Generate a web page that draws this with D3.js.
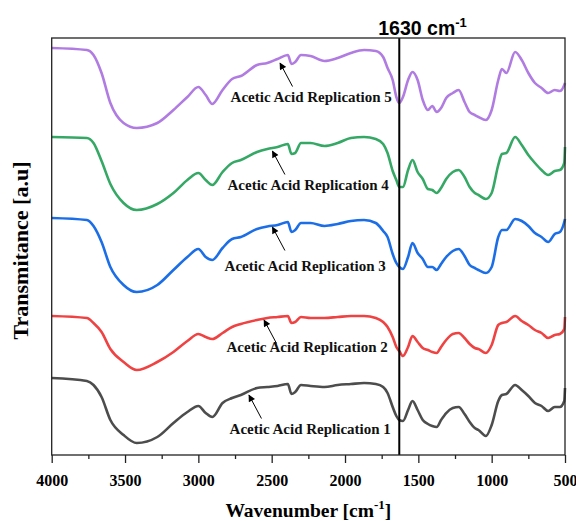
<!DOCTYPE html>
<html>
<head>
<meta charset="utf-8">
<script src="https://cdn.jsdelivr.net/npm/d3@7"></script>
<style>
  body { margin: 0; background: #fff; }
  svg { display: block; }
  .tick text { font-family: "Liberation Serif", "Times New Roman", serif; font-weight: bold; font-size: 16px; fill: #000; }
  .annot { font-family: "Liberation Serif", "Times New Roman", serif; font-weight: bold; font-size: 15px; fill: #111; }
  .title { font-family: "Liberation Serif", "Times New Roman", serif; font-weight: bold; fill: #000; }
</style>
</head>
<body>
<script>
// wavenumbers (cm-1) shared by all five spectra
var wavenumbers = [4000, 3760, 3715, 3660, 3600, 3510, 3420, 3280, 3170, 3075, 3000, 2950, 2905, 2835, 2770, 2710,
    2600, 2530, 2460, 2390, 2365, 2340, 2300, 2235, 2140, 2050, 1960, 1870, 1790, 1740, 1710, 1675, 1650, 1630,
    1605, 1570, 1540, 1505, 1470, 1435, 1405, 1375, 1345, 1310, 1265, 1225, 1185, 1150, 1115, 1090, 1040, 1000,
    955, 930, 900, 840, 795, 750, 705, 660, 615, 570, 535, 505, 500];

// transmittance [a.u], offset stacked
var rep1 = [7.7, 7.4, 7.0, 5.8, 3.5, 2.0, 1.2, 1.8, 3.2, 4.3, 4.9, 4.2, 3.8, 5.2, 5.7, 6.0,
    6.7, 6.8, 6.9, 7.1, 6.1, 6.3, 7.0, 6.9, 6.8, 7.0, 7.1, 7.2, 7.1, 6.8, 6.2, 4.8, 3.9, 3.5,
    3.4, 4.5, 5.4, 4.5, 3.5, 3.1, 2.9, 2.8, 3.5, 4.2, 4.7, 4.8, 4.1, 3.3, 2.7, 2.5, 1.9, 3.0,
    5.4, 6.0, 6.1, 7.0, 6.5, 5.9, 5.2, 4.9, 4.4, 4.8, 4.8, 5.4, 6.7];
var rep2 = [13.9, 13.7, 13.2, 12.3, 10.6, 9.3, 8.5, 9.3, 10.3, 11.4, 12.1, 11.8, 11.6, 12.2, 12.8, 13.1,
    13.5, 13.7, 13.8, 13.9, 13.2, 13.3, 13.8, 13.7, 13.7, 13.8, 13.9, 13.9, 13.7, 13.3, 12.8, 11.8, 10.8, 10.4,
    9.9, 10.8, 11.9, 11.3, 10.7, 10.5, 10.3, 10.2, 10.8, 11.5, 12.1, 12.2, 11.7, 11.1, 10.7, 10.6, 10.2, 11.0,
    13.0, 13.2, 13.3, 13.9, 13.4, 13.0, 12.5, 12.2, 11.7, 12.0, 12.1, 12.6, 13.8];
var rep3 = [23.7, 23.5, 22.9, 21.3, 18.8, 17.0, 16.3, 17.0, 18.5, 19.8, 20.6, 19.8, 19.5, 20.7, 21.6, 21.8,
    22.6, 22.85, 23.0, 23.3, 22.3, 22.5, 23.2, 23.2, 22.9, 23.1, 23.4, 23.5, 23.2, 22.4, 21.8, 20.1, 19.2, 18.8,
    18.6, 19.8, 21.2, 20.2, 19.6, 18.8, 18.8, 18.5, 19.1, 19.8, 20.4, 20.6, 19.9, 19.0, 18.7, 18.5, 18.2, 18.8,
    21.8, 22.5, 22.5, 23.6, 23.4, 22.9, 22.2, 21.8, 21.3, 22.1, 22.3, 23.3, 23.6];
var rep4 = [31.8, 31.7, 31.2, 29.4, 27.1, 25.2, 24.5, 25.1, 26.2, 27.5, 28.2, 27.5, 27.0, 28.3, 29.2, 29.5,
    30.3, 30.6, 30.8, 31.1, 30.1, 30.2, 31.2, 31.2, 30.9, 31.2, 31.7, 31.8, 31.6, 31.1, 30.2, 28.4, 27.5, 26.8,
    26.8, 28.5, 29.5, 28.3, 27.6, 26.6, 26.5, 26.2, 26.7, 27.6, 28.3, 28.5, 27.8, 26.8, 26.2, 26.0, 25.6, 26.2,
    29.0, 30.1, 30.2, 31.8, 31.0, 30.0, 29.2, 28.5, 28.0, 28.4, 28.5, 29.2, 30.8];
var rep5 = [40.7, 40.5, 40.0, 38.2, 35.2, 33.2, 32.7, 33.2, 34.5, 35.8, 36.8, 36.0, 35.1, 36.5, 37.6, 37.9,
    39.0, 39.2, 39.6, 40.0, 39.1, 39.3, 40.0, 39.9, 39.4, 39.7, 40.2, 40.5, 40.4, 39.8, 38.7, 37.5, 35.8, 35.2,
    35.8, 37.5, 38.3, 37.5, 35.5, 34.5, 34.9, 34.3, 34.7, 35.7, 36.2, 36.5, 35.3, 34.3, 34.0, 33.8, 33.5, 34.5,
    37.5, 38.6, 38.2, 40.3, 39.5, 38.2, 37.2, 36.7, 36.2, 36.5, 36.4, 37.0, 37.2];

var seriesNames = ["Acetic Acid Replication 1", "Acetic Acid Replication 2", "Acetic Acid Replication 3",
    "Acetic Acid Replication 4", "Acetic Acid Replication 5"];
var seriesColors = ["#4d4d4d", "#ef4343", "#1b6ee6", "#35a865", "#b07ce2"];

// arrow tips and label positions, in data units [wavenumber, a.u.]
var arrowTips = [[2655, 6.0], [2552, 13.5], [2495, 22.8], [2495, 30.4], [2443, 39.2]];
var labelPos = [[2787, 2.1], [2808, 10.3], [2821, 18.4], [2801, 26.5], [2780, 35.3]];

var xTicks = [4000, 3500, 3000, 2500, 2000, 1500, 1000, 500];
var markLine = 1630;

var margin = {top: 38, right: 11, bottom: 66, left: 51.7},
    width = 576 - margin.left - margin.right,
    height = 521 - margin.top - margin.bottom;

var x = d3.scaleLinear().domain([4000, 500]).range([0, width]);
var y = d3.scaleLinear().domain([0, 41.7]).range([height, 0]);

var svg = d3.select("body").append("svg")
    .attr("width", 576)
    .attr("height", 521);

var defs = svg.append("defs");
defs.append("marker")
    .attr("id", "arrow")
    .attr("viewBox", "0 0 10 10")
    .attr("refX", 9)
    .attr("refY", 5)
    .attr("markerWidth", 9)
    .attr("markerHeight", 7)
    .attr("markerUnits", "userSpaceOnUse")
    .attr("orient", "auto")
    .append("path")
    .attr("d", "M0,0 L10,5 L0,10 Z")
    .attr("fill", "#000");

var g = svg.append("g")
    .attr("transform", "translate(" + margin.left + "," + margin.top + ")");

var line = d3.line()
    .curve(d3.curveMonotoneX)
    .x(d => x(d[0]))
    .y(d => y(d[1]));

var series = [rep1, rep2, rep3, rep4, rep5];

g.selectAll(".spectrum")
    .data(series)
    .enter()
    .append("path")
    .attr("class", "spectrum")
    .attr("fill", "none")
    .attr("stroke", (d, i) => seriesColors[i])
    .attr("stroke-width", 2.6)
    .attr("stroke-linejoin", "round")
    .attr("d", d => line(d.map((v, j) => [wavenumbers[j], v])));

// vertical marker
g.append("line")
    .attr("x1", x(markLine)).attr("x2", x(markLine))
    .attr("y1", 0).attr("y2", height)
    .attr("stroke", "#000")
    .attr("stroke-width", 2);

// frame
g.append("rect")
    .attr("width", width)
    .attr("height", height)
    .attr("fill", "none")
    .attr("stroke", "#222")
    .attr("stroke-width", 1.3);

// x axis, minor ticks every 250
var minor = d3.range(500, 4001, 250);
var xAxis = d3.axisBottom(x)
    .tickValues(minor)
    .tickSize(8)
    .tickPadding(12)
    .tickFormat(d => xTicks.indexOf(d) >= 0 ? d : "");

var ax = g.append("g")
    .attr("transform", "translate(0," + height + ")")
    .call(xAxis);
ax.select(".domain").remove();
ax.selectAll(".tick line").attr("stroke", "#222").attr("stroke-width", 1.3)
    .attr("y2", d => xTicks.indexOf(d) >= 0 ? 8 : 4);
// last label sits on the window edge
ax.selectAll(".tick text").filter(d => d === 500)
    .attr("text-anchor", "end")
    .attr("x", 12);

// annotations
series.forEach(function(s, i) {
    var tip = arrowTips[i];
    var tx = x(tip[0]), ty = y(tip[1]);
    g.append("line")
        .attr("x1", tx + 12.5).attr("y1", ty + 23.5)
        .attr("x2", tx).attr("y2", ty)
        .attr("stroke", "#000")
        .attr("stroke-width", 1)
        .attr("marker-end", "url(#arrow)");
    g.append("text")
        .attr("class", "annot")
        .attr("x", x(labelPos[i][0]))
        .attr("y", y(labelPos[i][1]))
        .text(seriesNames[i]);
});

// marker label
var ml = svg.append("text")
    .attr("x", margin.left + x(markLine) - 21)
    .attr("y", 35)
    .attr("font-family", "Liberation Sans, Arial, sans-serif")
    .attr("font-weight", "bold")
    .attr("font-size", 19.5)
    .text(markLine + " cm");
ml.append("tspan").attr("dy", -8).attr("font-size", 13).text("-1");

// axis titles
var xt = svg.append("text")
    .attr("class", "title")
    .attr("font-size", 19.5)
    .attr("x", margin.left + width / 2)
    .attr("y", 517)
    .attr("text-anchor", "middle")
    .text("Wavenumber [cm");
xt.append("tspan").attr("dy", -8).attr("font-size", 13).text("-1");
xt.append("tspan").attr("dy", 8).text("]");

svg.append("text")
    .attr("class", "title")
    .attr("font-size", 22)
    .attr("transform", "translate(28," + (margin.top + height / 2 + 4) + ") rotate(-90)")
    .attr("text-anchor", "middle")
    .text("Transmitance [a.u]");
</script>
</body>
</html>
